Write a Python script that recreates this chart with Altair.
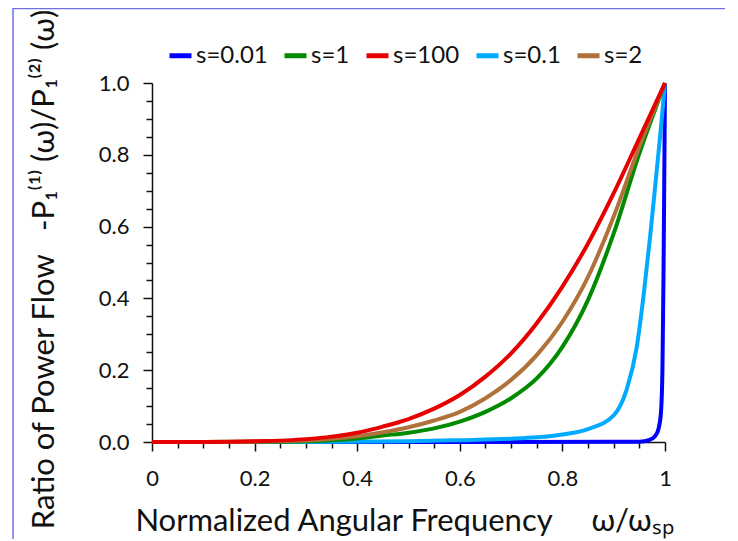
import altair as alt
import pandas as pd

# ---- data ----
series_names = ["s=0.01", "s=1", "s=100", "s=0.1", "s=2"]
series_colors = ["#0000FF", "#008A00", "#E60000", "#00AAFF", "#B0713A"]

x_red = [0, 0.1, 0.2, 0.3, 0.35, 0.4, 0.45, 0.5, 0.55, 0.6, 0.65, 0.7, 0.75, 0.8, 0.85, 0.9, 0.95, 1.0]
y_red = [0, 0.0002, 0.002, 0.008, 0.015, 0.026, 0.043, 0.064, 0.093, 0.131, 0.182, 0.247, 0.331, 0.433, 0.553, 0.693, 0.846, 1.0]

x_brown = [0, 0.1, 0.2, 0.3, 0.35, 0.4, 0.45, 0.5, 0.55, 0.6, 0.65, 0.7, 0.75, 0.8, 0.85, 0.9, 0.95, 1.0]
y_brown = [0, 0.0001, 0.001, 0.004, 0.009, 0.016, 0.027, 0.041, 0.060, 0.084, 0.122, 0.173, 0.242, 0.335, 0.460, 0.628, 0.823, 1.0]

x_green = [0, 0.1, 0.2, 0.3, 0.35, 0.4, 0.45, 0.5, 0.55, 0.6, 0.65, 0.7, 0.75, 0.8, 0.85, 0.9, 0.95, 1.0]
y_green = [0, 0.0, 0.0005, 0.002, 0.005, 0.010, 0.018, 0.026, 0.038, 0.057, 0.084, 0.122, 0.177, 0.265, 0.396, 0.581, 0.804, 1.0]

x_lblue = [0, 0.3, 0.5, 0.6, 0.7, 0.75, 0.8, 0.85, 0.9, 0.925, 0.945, 0.958, 0.971, 0.984, 0.9935, 1.0]
y_lblue = [0, 0.0003, 0.002, 0.005, 0.009, 0.013, 0.021, 0.036, 0.074, 0.145, 0.265, 0.405, 0.572, 0.758, 0.897, 1.0]

x_blue = [0, 0.5, 0.9, 0.95, 0.97, 0.98, 0.987, 0.992, 0.995, 0.997, 0.9985, 1.0]
y_blue = [0, 0.0, 0.0005, 0.001, 0.006, 0.015, 0.035, 0.08, 0.2, 0.45, 0.72, 1.0]

rows = []
for name, xs, ys in [
    ("s=0.01", x_blue, y_blue),
    ("s=0.1", x_lblue, y_lblue),
    ("s=1", x_green, y_green),
    ("s=2", x_brown, y_brown),
    ("s=100", x_red, y_red),
]:
    for xv, yv in zip(xs, ys):
        rows.append({"s": name, "w": xv, "r": yv})
df = pd.DataFrame(rows)

tick_values = [round(i * 0.05, 2) for i in range(21)]
major_test = "abs(datum.value*5 - round(datum.value*5)) < 0.001"

FONT = "Lato"
x_title = "Normalized Angular Frequency\u2002\u2003\u03c9/\u03c9\u209b\u209a"
y_title = "Ratio of Power Flow\u2003-P\u2081\u207d\u00b9\u207e (\u03c9)/P\u2081\u207d\u00b2\u207e (\u03c9)"

x_axis = alt.Axis(
    values=tick_values,
    labelExpr=f"({major_test}) ? format(datum.value, '.1~f') : ''",
    tickSize={"condition": {"test": major_test, "value": 9}, "value": 6},
    labelOverlap=False,
    labelFlush=False,
    labelFontSize=22,
    labelPadding=17,
    labelFont=FONT,
    labelColor="#111111",
    title=x_title,
    titleFont=FONT,
    titleFontSize=31,
    titleFontWeight="normal",
    titleColor="#111111",
    titleBaseline="alphabetic",
    titleY=88,
    titleX=252,
    grid=False,
    domainColor="#111111",
    domainWidth=1.5,
    tickColor="#111111",
    tickWidth=1.5,
)

y_axis = alt.Axis(
    values=tick_values,
    labelExpr=f"({major_test}) ? format(datum.value, '.1f') : ''",
    tickSize={"condition": {"test": major_test, "value": 9}, "value": 6},
    labelOverlap=False,
    labelFlush=False,
    labelFontSize=22,
    labelPadding=14,
    labelFont=FONT,
    labelColor="#111111",
    title=y_title,
    titleFont=FONT,
    titleFontSize=31,
    titleFontWeight="normal",
    titleColor="#111111",
    titleAngle=-90,
    titleBaseline="middle",
    titleX=-108,
    titleY=186,
    grid=False,
    domainColor="#111111",
    domainWidth=1.5,
    tickColor="#111111",
    tickWidth=1.5,
)

lines = alt.Chart(df).mark_line(strokeWidth=4, interpolate="monotone").encode(
    x=alt.X("w:Q", scale=alt.Scale(domain=[0, 1], nice=False, zero=False), axis=x_axis),
    y=alt.Y("r:Q", scale=alt.Scale(domain=[0, 1], nice=False), axis=y_axis),
    color=alt.Color(
        "s:N",
        scale=alt.Scale(domain=series_names, range=series_colors),
        legend=alt.Legend(
            title=None,
            orient="none",
            direction="horizontal",
            legendX=15,
            legendY=-41,
            symbolType="stroke",
            symbolSize=484,
            symbolStrokeWidth=5,
            labelFont=FONT,
            labelFontSize=24,
            labelColor="#111111",
            labelOffset=2,
            columnPadding=6,
        ),
    ),
)

border_color = "#6F6FE6"
top_border = alt.Chart(alt.Data(values=[{}])).mark_rule(color=border_color, strokeWidth=1.5).encode(
    x=alt.value(-139), x2=alt.value(700), y=alt.value(-74.5)
)
left_border = alt.Chart(alt.Data(values=[{}])).mark_rule(color=border_color, strokeWidth=1.5).encode(
    x=alt.value(-139), y=alt.value(-75), y2=alt.value(520)
)

chart = (
    alt.layer(lines, top_border, left_border)
    .properties(
        width=513,
        height=359,
        autosize=alt.AutoSizeParams(type="none"),
        padding={"left": 144, "top": 75, "right": 60, "bottom": 97},
        background="white",
    )
    .configure_view(stroke=None)
)

chart.save("out.html", embed_options={"renderer": "svg", "actions": False})
